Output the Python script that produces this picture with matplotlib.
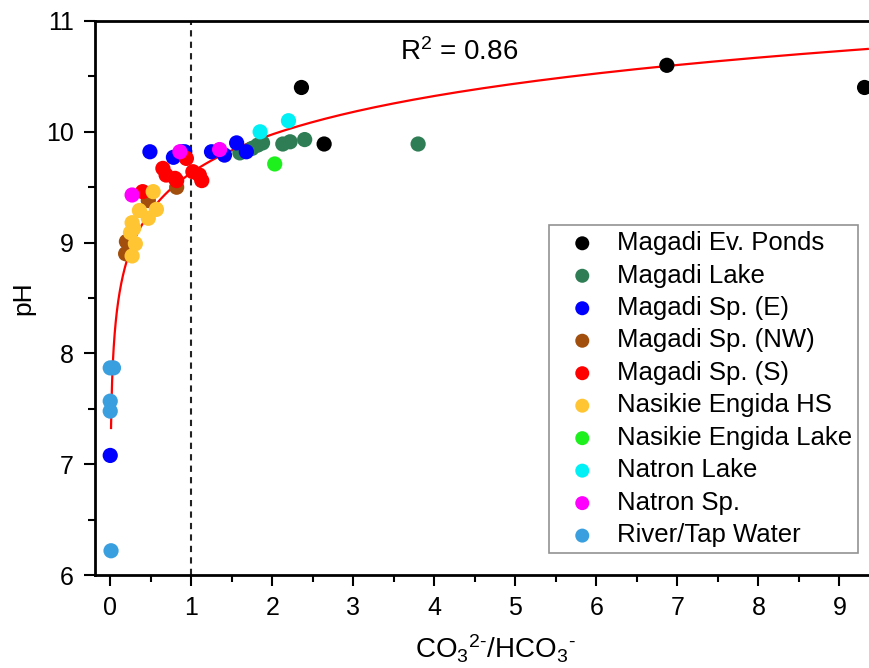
import numpy as np
import matplotlib
matplotlib.use("Agg")
import matplotlib.pyplot as plt
from matplotlib.ticker import MultipleLocator

plt.rcParams['font.family'] = ['Liberation Sans', 'DejaVu Sans']
plt.rcParams['mathtext.fontset'] = 'custom'
plt.rcParams['mathtext.rm'] = 'Liberation Sans'
plt.rcParams['mathtext.it'] = 'Liberation Sans:italic'

# CO3/HCO3 ratio and pH per sample group
ev_ponds_x = [2.36, 2.64, 6.87, 9.31]
ev_ponds_ph = [10.40, 9.89, 10.60, 10.40]

lake_x = [1.60, 1.75, 1.82, 1.88, 2.13, 2.22, 2.40, 3.80]
lake_ph = [9.81, 9.85, 9.88, 9.90, 9.89, 9.91, 9.93, 9.89]

sp_e_x = [0.00, 0.49, 0.78, 0.88, 0.92, 1.25, 1.41, 1.56, 1.68]
sp_e_ph = [7.08, 9.82, 9.77, 9.82, 9.82, 9.82, 9.79, 9.90, 9.82]

sp_nw_x = [0.19, 0.20, 0.47, 0.82]
sp_nw_ph = [8.90, 9.01, 9.38, 9.50]

sp_s_x = [0.40, 0.65, 0.69, 0.80, 0.82, 0.94, 1.02, 1.10, 1.13]
sp_s_ph = [9.46, 9.67, 9.61, 9.58, 9.56, 9.76, 9.64, 9.61, 9.56]

ne_hs_x = [0.25, 0.27, 0.27, 0.29, 0.31, 0.36, 0.47, 0.53, 0.57]
ne_hs_ph = [9.09, 9.18, 8.88, 9.13, 8.99, 9.29, 9.22, 9.46, 9.30]

ne_lake_x = [2.03]
ne_lake_ph = [9.71]

natron_lake_x = [1.85, 2.20]
natron_lake_ph = [10.00, 10.10]

natron_sp_x = [0.27, 0.86, 1.35]
natron_sp_ph = [9.43, 9.82, 9.84]

river_x = [0.00, 0.04, 0.00, 0.00, 0.01]
river_ph = [7.87, 7.87, 7.57, 7.48, 6.22]

# logarithmic fit: pH = a + b*ln(x)
fit_a = 9.63
fit_b = 0.50
fit_xmin, fit_xmax = 0.01, 9.35

groups = [
    ('Magadi Ev. Ponds', ev_ponds_x, ev_ponds_ph, '#000000'),
    ('Magadi Lake', lake_x, lake_ph, '#2E7D55'),
    ('Magadi Sp. (E)', sp_e_x, sp_e_ph, '#0000FF'),
    ('Magadi Sp. (NW)', sp_nw_x, sp_nw_ph, '#A24E0C'),
    ('Magadi Sp. (S)', sp_s_x, sp_s_ph, '#FF0000'),
    ('Nasikie Engida HS', ne_hs_x, ne_hs_ph, '#FFC533'),
    ('Nasikie Engida Lake', ne_lake_x, ne_lake_ph, '#1EF01E'),
    ('Natron Lake', natron_lake_x, natron_lake_ph, '#00F0F5'),
    ('Natron Sp.', natron_sp_x, natron_sp_ph, '#FF00FF'),
    ('River/Tap Water', river_x, river_ph, '#3A9FDF'),
]

fig = plt.figure(figsize=(8.7, 6.68), dpi=100)
# the original frame runs a little past the right edge of the image
ax = fig.add_axes([0.109, 0.139, 0.922, 0.8296])

xs = np.linspace(np.log(fit_xmin), np.log(fit_xmax), 300)
ax.plot(np.exp(xs), fit_a + fit_b * xs, color='red', lw=1.6, zorder=2)

for name, x, y, c in groups:
    ax.scatter(x, y, s=120, color=c, edgecolors='none', label=name, zorder=3)

ax.axvline(1, color='#222222', ls=(0, (3, 2.5)), lw=1.5, zorder=1)

ax.text(4.30, 10.72, 'R$^2$ = 0.86', fontsize=20, ha='center', va='center')

ax.set_xlim(-0.19, 9.71)
ax.set_ylim(6, 11)
ax.xaxis.set_major_locator(MultipleLocator(1))
ax.xaxis.set_minor_locator(MultipleLocator(0.5))
ax.yaxis.set_major_locator(MultipleLocator(1))
ax.yaxis.set_minor_locator(MultipleLocator(0.5))
ax.tick_params(which='major', direction='out', length=8, width=1.5, labelsize=18, pad=7)
ax.tick_params(which='minor', direction='out', length=5, width=1.5)
for s in ['left', 'bottom', 'top', 'right']:
    ax.spines[s].set_linewidth(2)

ax.set_xlabel(r'CO$_3{}^{\text{2-}}$/HCO$_3{}^{\text{-}}$', fontsize=20, labelpad=9)
ax.set_ylabel('pH', fontsize=19, labelpad=8)

leg = ax.legend(loc='lower right', bbox_to_anchor=(858 / 870, 1 - 553 / 668),
                bbox_transform=fig.transFigure, borderaxespad=0, fontsize=18.5,
                frameon=True, fancybox=False, edgecolor='#777777',
                handlelength=2.18, handletextpad=0.27, labelspacing=0.33,
                borderpad=0.22, scatterpoints=1, markerscale=0.92)
leg.get_frame().set_linewidth(1.2)

fig.savefig('out.png', dpi=100)
